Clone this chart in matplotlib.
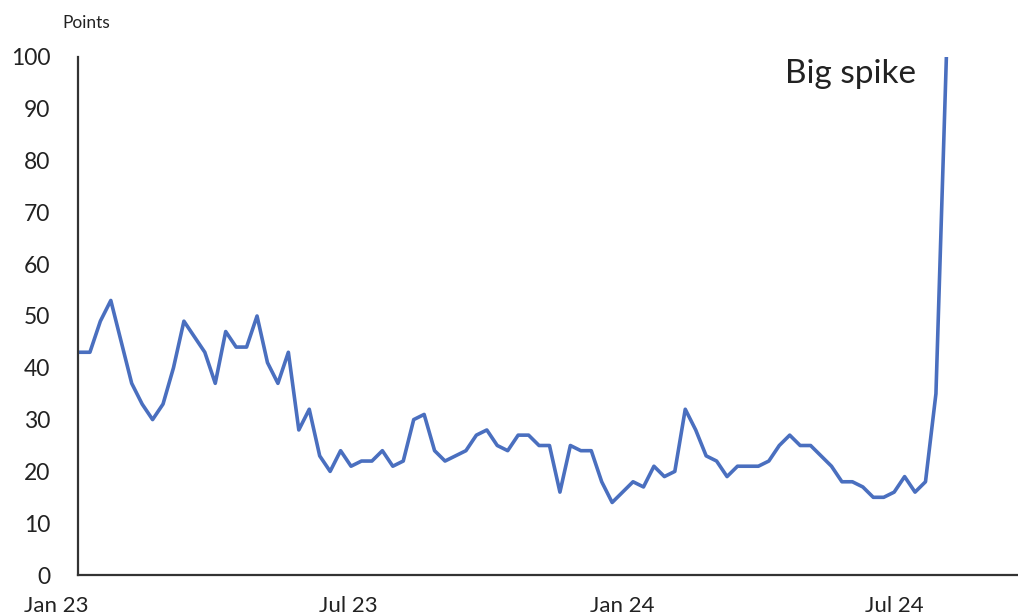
import matplotlib.pyplot as plt
import matplotlib.transforms as mtransforms
import pandas as pd

# weekly readings, Jan 2023 -> Aug 2024
values = [
    43, 43, 49, 53, 45, 37, 33, 30, 33, 40,
    49, 46, 43, 37, 47, 44, 44, 50, 41, 37,
    43, 28, 32, 23, 20, 24, 21, 22, 22, 24,
    21, 22, 30, 31, 24, 22, 23, 24, 27, 28,
    25, 24, 27, 27, 25, 25, 16, 25, 24, 24,
    18, 14, 16, 18, 17, 21, 19, 20, 32, 28,
    23, 22, 19, 21, 21, 21, 22, 25, 27, 25,
    25, 23, 21, 18, 18, 17, 15, 15, 16, 19,
    16, 18, 35, 100,
]
dates = pd.date_range('2023-01-02', periods=len(values), freq='7D')

tick_dates = pd.to_datetime(['2023-01-01', '2023-07-01', '2024-01-01', '2024-07-01'])
tick_labels = ['Jan 23', 'Jul 23', 'Jan 24', 'Jul 24']
y_ticks = list(range(0, 101, 10))

plt.rcParams['font.family'] = ['Lato', 'DejaVu Sans']
text_col = '#222222'

fig = plt.figure(figsize=(10.18, 6.14), dpi=100)
ax = fig.add_axes([0.0766, 0.0635, 0.9234, 0.8437])

ax.plot(dates, values, color='#4a6fbf', lw=2.6, solid_joinstyle='round')

ax.set_ylim(0, 100)
ax.set_xlim(pd.Timestamp('2023-01-02'), pd.Timestamp('2024-09-22'))
ax.set_yticks(y_ticks)
ax.set_xticks(tick_dates)
ax.set_xticklabels(tick_labels)

ax.tick_params(axis='y', length=0, pad=20, labelsize=16.5, colors=text_col)
ax.tick_params(axis='x', length=0, pad=15, labelsize=16, colors=text_col)

for side in ['top', 'right']:
    ax.spines[side].set_visible(False)
for side in ['left', 'bottom']:
    ax.spines[side].set_color('#333333')
    ax.spines[side].set_linewidth(1.6)

# nudge the first date label left so it sits clear of the spine
first = ax.get_xticklabels()[0]
first.set_transform(first.get_transform() +
                    mtransforms.ScaledTranslation(-0.22, 0, fig.dpi_scale_trans))

fig.text(62 / 1018, 1 - 23 / 614, 'Points', fontsize=12.5, color=text_col,
         ha='left', va='center')
fig.text(785 / 1018, 1 - 74 / 614, 'Big spike', fontsize=24, color=text_col,
         ha='left', va='center')

fig.savefig('out.png', dpi=100, facecolor='white')
